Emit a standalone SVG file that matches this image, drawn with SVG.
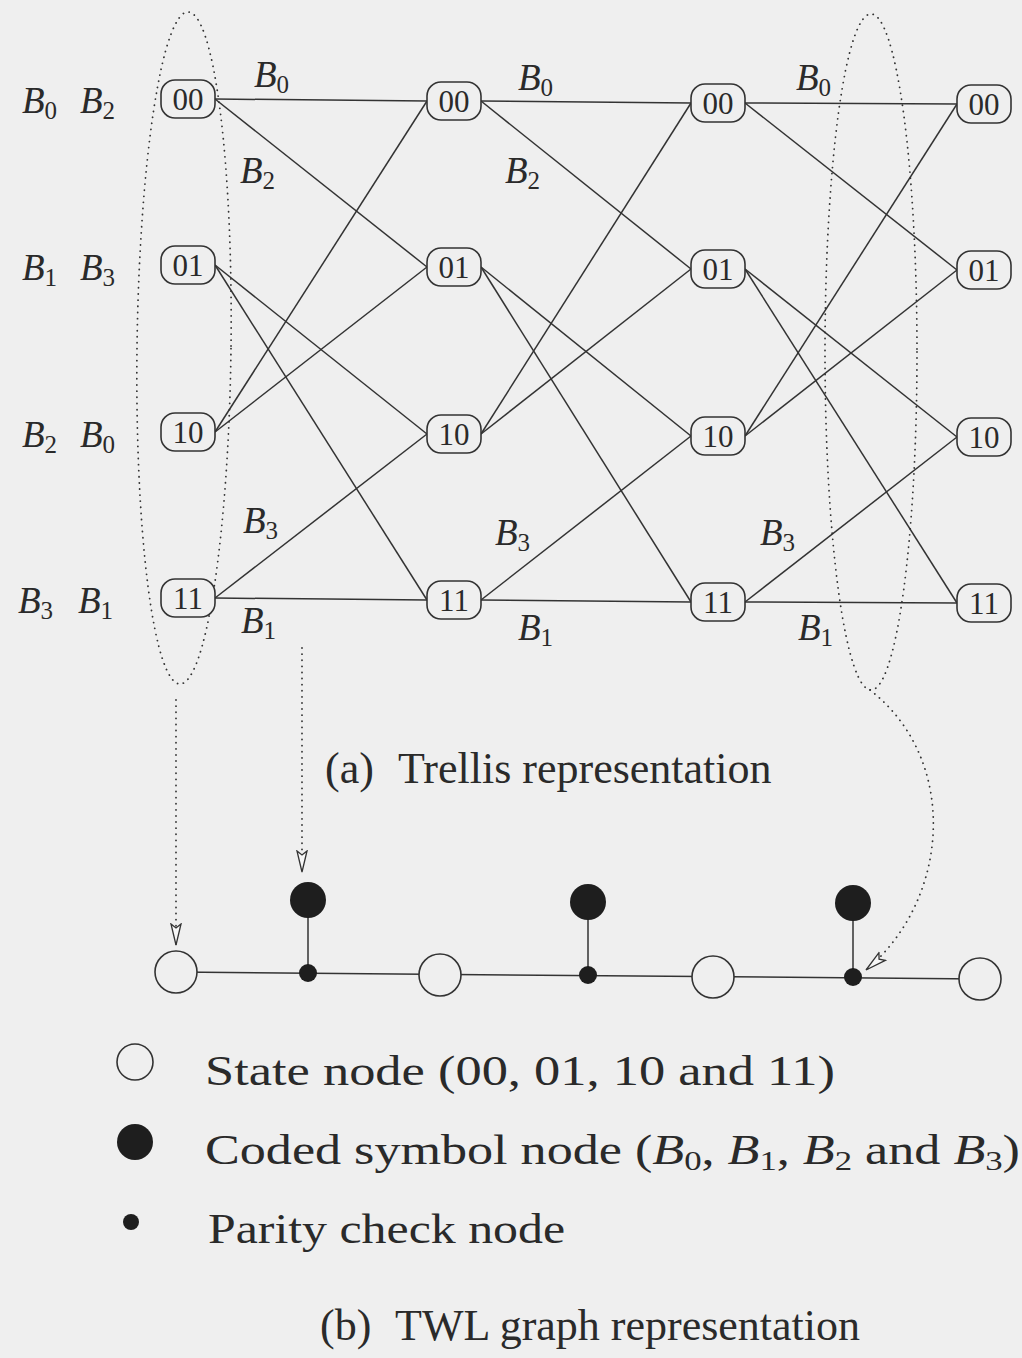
<svg xmlns="http://www.w3.org/2000/svg" width="1022" height="1358" viewBox="0 0 1022 1358">
<style>
.bg{fill:#efefef}
.edge{stroke:#333;stroke-width:1.5;fill:none}
.box{fill:#efefef;stroke:#333;stroke-width:1.6}
.lbl{font-family:"Liberation Serif",serif;font-size:31px;fill:#2a2a2a;text-anchor:middle}
.m{font-family:"Liberation Serif",serif;font-size:37px;fill:#2a2a2a}
.i{font-style:italic}
.sub{font-size:25px;font-style:normal}
.dot{stroke:#333;stroke-width:1.8;fill:none;stroke-dasharray:0.1 6;stroke-linecap:round}
.cap{font-family:"Liberation Serif",serif;font-size:44px;fill:#2a2a2a}
.leg{font-family:"Liberation Serif",serif;font-size:42px;fill:#2a2a2a}
.st{fill:#efefef;stroke:#333;stroke-width:1.6}
.blk{fill:#1e1e1e}
</style>
<defs>
<marker id="ah" markerUnits="userSpaceOnUse" markerWidth="24" markerHeight="14" refX="22" refY="7" orient="auto">
<path d="M1,2 L22,7 L1,12 L5,7 z" fill="#f7f7f7" stroke="#333" stroke-width="1.3"/>
</marker>
</defs>
<rect class="bg" x="0" y="0" width="1022" height="1358"/>

<g id="connectors">
<line class="edge" x1="215" y1="99" x2="427" y2="101"/>
<line class="edge" x1="215" y1="99" x2="427" y2="267"/>
<line class="edge" x1="215" y1="265" x2="427" y2="434"/>
<line class="edge" x1="215" y1="265" x2="427" y2="600"/>
<line class="edge" x1="215" y1="432" x2="427" y2="101"/>
<line class="edge" x1="215" y1="432" x2="427" y2="267"/>
<line class="edge" x1="215" y1="598" x2="427" y2="434"/>
<line class="edge" x1="215" y1="598" x2="427" y2="600"/>

<line class="edge" x1="481" y1="101" x2="691" y2="103"/>
<line class="edge" x1="481" y1="101" x2="691" y2="269"/>
<line class="edge" x1="481" y1="267" x2="691" y2="436"/>
<line class="edge" x1="481" y1="267" x2="691" y2="602"/>
<line class="edge" x1="481" y1="434" x2="691" y2="103"/>
<line class="edge" x1="481" y1="434" x2="691" y2="269"/>
<line class="edge" x1="481" y1="600" x2="691" y2="436"/>
<line class="edge" x1="481" y1="600" x2="691" y2="602"/>

<line class="edge" x1="745" y1="103" x2="957" y2="104"/>
<line class="edge" x1="745" y1="103" x2="957" y2="270"/>
<line class="edge" x1="745" y1="269" x2="957" y2="437"/>
<line class="edge" x1="745" y1="269" x2="957" y2="603"/>
<line class="edge" x1="745" y1="436" x2="957" y2="104"/>
<line class="edge" x1="745" y1="436" x2="957" y2="270"/>
<line class="edge" x1="745" y1="602" x2="957" y2="437"/>
<line class="edge" x1="745" y1="602" x2="957" y2="603"/>

<!-- dotted grouping ellipses and arrows -->
<ellipse class="dot" cx="184" cy="348" rx="47" ry="336" transform="rotate(0.7 184 348)"/>
<ellipse class="dot" cx="871" cy="352" rx="46" ry="338"/>
<line class="dot" x1="176" y1="700" x2="176" y2="945" marker-end="url(#ah)"/>
<line class="dot" x1="302" y1="648" x2="302" y2="872" marker-end="url(#ah)"/>
<path class="dot" d="M870,690 C960,760 950,900 866,970" marker-end="url(#ah)"/>

<!-- TWL graph edges -->
<line class="edge" x1="176" y1="972" x2="980" y2="979"/>
<line class="edge" x1="308" y1="900" x2="308" y2="973"/>
<line class="edge" x1="588" y1="902" x2="588" y2="975"/>
<line class="edge" x1="853" y1="903" x2="853" y2="977"/>
</g>

<!-- trellis nodes -->
<g id="n1-00"><rect class="box" x="161" y="80" width="54" height="38" rx="14"/><text class="lbl" x="188" y="110">00</text></g>
<g id="n1-01"><rect class="box" x="161" y="246" width="54" height="38" rx="14"/><text class="lbl" x="188" y="276">01</text></g>
<g id="n1-10"><rect class="box" x="161" y="413" width="54" height="38" rx="14"/><text class="lbl" x="188" y="443">10</text></g>
<g id="n1-11"><rect class="box" x="161" y="579" width="54" height="38" rx="14"/><text class="lbl" x="188" y="609">11</text></g>

<g id="n2-00"><rect class="box" x="427" y="82" width="54" height="38" rx="14"/><text class="lbl" x="454" y="112">00</text></g>
<g id="n2-01"><rect class="box" x="427" y="248" width="54" height="38" rx="14"/><text class="lbl" x="454" y="278">01</text></g>
<g id="n2-10"><rect class="box" x="427" y="415" width="54" height="38" rx="14"/><text class="lbl" x="454" y="445">10</text></g>
<g id="n2-11"><rect class="box" x="427" y="581" width="54" height="38" rx="14"/><text class="lbl" x="454" y="611">11</text></g>

<g id="n3-00"><rect class="box" x="691" y="84" width="54" height="38" rx="14"/><text class="lbl" x="718" y="114">00</text></g>
<g id="n3-01"><rect class="box" x="691" y="250" width="54" height="38" rx="14"/><text class="lbl" x="718" y="280">01</text></g>
<g id="n3-10"><rect class="box" x="691" y="417" width="54" height="38" rx="14"/><text class="lbl" x="718" y="447">10</text></g>
<g id="n3-11"><rect class="box" x="691" y="583" width="54" height="38" rx="14"/><text class="lbl" x="718" y="613">11</text></g>

<g id="n4-00"><rect class="box" x="957" y="85" width="54" height="38" rx="14"/><text class="lbl" x="984" y="115">00</text></g>
<g id="n4-01"><rect class="box" x="957" y="251" width="54" height="38" rx="14"/><text class="lbl" x="984" y="281">01</text></g>
<g id="n4-10"><rect class="box" x="957" y="418" width="54" height="38" rx="14"/><text class="lbl" x="984" y="448">10</text></g>
<g id="n4-11"><rect class="box" x="957" y="584" width="54" height="38" rx="14"/><text class="lbl" x="984" y="614">11</text></g>

<!-- row labels -->
<g id="row-labels">
<text class="m" x="22" y="113"><tspan class="i">B</tspan><tspan class="sub" dy="6">0</tspan><tspan dy="-6" x="80" class="i">B</tspan><tspan class="sub" dy="6">2</tspan></text>
<text class="m" x="22" y="280"><tspan class="i">B</tspan><tspan class="sub" dy="6">1</tspan><tspan dy="-6" x="80" class="i">B</tspan><tspan class="sub" dy="6">3</tspan></text>
<text class="m" x="22" y="447"><tspan class="i">B</tspan><tspan class="sub" dy="6">2</tspan><tspan dy="-6" x="80" class="i">B</tspan><tspan class="sub" dy="6">0</tspan></text>
<text class="m" x="18" y="613"><tspan class="i">B</tspan><tspan class="sub" dy="6">3</tspan><tspan dy="-6" x="78" class="i">B</tspan><tspan class="sub" dy="6">1</tspan></text>
</g>

<!-- edge labels -->
<g id="edge-labels">
<text class="m" x="254" y="87"><tspan class="i">B</tspan><tspan class="sub" dy="6">0</tspan></text>
<text class="m" x="240" y="183"><tspan class="i">B</tspan><tspan class="sub" dy="6">2</tspan></text>
<text class="m" x="243" y="533"><tspan class="i">B</tspan><tspan class="sub" dy="6">3</tspan></text>
<text class="m" x="241" y="633"><tspan class="i">B</tspan><tspan class="sub" dy="6">1</tspan></text>

<text class="m" x="518" y="90"><tspan class="i">B</tspan><tspan class="sub" dy="6">0</tspan></text>
<text class="m" x="505" y="183"><tspan class="i">B</tspan><tspan class="sub" dy="6">2</tspan></text>
<text class="m" x="495" y="545"><tspan class="i">B</tspan><tspan class="sub" dy="6">3</tspan></text>
<text class="m" x="518" y="640"><tspan class="i">B</tspan><tspan class="sub" dy="6">1</tspan></text>

<text class="m" x="796" y="90"><tspan class="i">B</tspan><tspan class="sub" dy="6">0</tspan></text>
<text class="m" x="760" y="545"><tspan class="i">B</tspan><tspan class="sub" dy="6">3</tspan></text>
<text class="m" x="798" y="640"><tspan class="i">B</tspan><tspan class="sub" dy="6">1</tspan></text>
</g>

<text class="cap" x="325" y="783">(a)</text>
<text class="cap" x="398" y="783">Trellis representation</text>

<!-- TWL graph nodes -->
<g id="s1"><circle class="st" cx="176" cy="972" r="21"/></g>
<g id="s2"><circle class="st" cx="440" cy="975" r="21"/></g>
<g id="s3"><circle class="st" cx="713" cy="977" r="21"/></g>
<g id="s4"><circle class="st" cx="980" cy="979" r="21"/></g>
<g id="c1"><circle class="blk" cx="308" cy="900" r="18"/></g>
<g id="c2"><circle class="blk" cx="588" cy="902" r="18"/></g>
<g id="c3"><circle class="blk" cx="853" cy="903" r="18"/></g>
<g id="p1"><circle class="blk" cx="308" cy="973" r="9"/></g>
<g id="p2"><circle class="blk" cx="588" cy="975" r="9"/></g>
<g id="p3"><circle class="blk" cx="853" cy="977" r="9"/></g>

<!-- legend -->
<g id="legend">
<circle class="st" cx="135" cy="1062" r="18"/>
<circle class="blk" cx="135" cy="1142" r="18"/>
<circle class="blk" cx="131" cy="1222" r="8"/>
<text class="leg" x="205" y="1085" textLength="630" lengthAdjust="spacingAndGlyphs">State node (00, 01, 10 and 11)</text>
<text class="leg" x="205" y="1164" textLength="815" lengthAdjust="spacingAndGlyphs">Coded symbol node (<tspan class="i">B</tspan><tspan font-size="28" dy="6">0</tspan><tspan dy="-6">, </tspan><tspan class="i">B</tspan><tspan font-size="28" dy="6">1</tspan><tspan dy="-6">, </tspan><tspan class="i">B</tspan><tspan font-size="28" dy="6">2</tspan><tspan dy="-6"> and </tspan><tspan class="i">B</tspan><tspan font-size="28" dy="6">3</tspan><tspan dy="-6">)</tspan></text>
<text class="leg" x="208" y="1243" textLength="357" lengthAdjust="spacingAndGlyphs">Parity check node</text>
</g>

<text class="cap" x="320" y="1340">(b)</text>
<text class="cap" x="395" y="1340">TWL graph representation</text>
</svg>
